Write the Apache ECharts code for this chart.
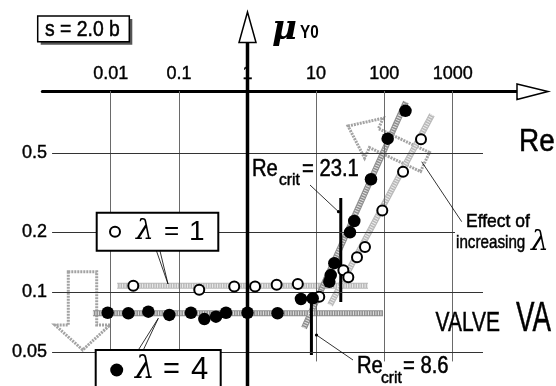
<!DOCTYPE html>
<html>
<head>
<meta charset="utf-8">
<script src="https://cdn.jsdelivr.net/npm/echarts@6/dist/echarts.min.js"></script>
<style>
  html, body { margin: 0; padding: 0; background: #fff; }
  #chart { width: 556px; height: 386px; }
</style>
</head>
<body>
<div id="chart"></div>
<script>
// Reynolds-number axis ticks
const reTicks = [0.01, 0.1, 1, 10, 100, 1000];
const reTickLabels = ['0.01', '0.1', '1', '10', '100', '1000'];
// friction-coefficient axis ticks
const muTicks = [0.05, 0.1, 0.2, 0.5];
const muTickLabels = ['0.05', '0.1', '0.2', '0.5'];

// lambda = 1 measurements (open circles)
const lambda1Re = [0.0214, 0.197, 0.64, 1.29, 2.67, 5.44, 11.2, 25.2, 29.8, 39.9, 52.2, 93.5, 188, 344];
const lambda1Mu = [0.108, 0.103, 0.107, 0.107, 0.109, 0.110, 0.095, 0.129, 0.119, 0.150, 0.169, 0.257, 0.403, 0.586];

// lambda = 4 measurements (filled circles)
const lambda4Re = [0.00904, 0.0181, 0.0355, 0.0719, 0.149, 0.234, 0.346, 0.485, 1.0, 2.75, 6.05, 8.98, 15.7, 16.5, 18.6, 31.5, 36.4, 63.9, 112, 204];
const lambda4Mu = [0.079, 0.0785, 0.080, 0.077, 0.079, 0.0734, 0.0755, 0.079, 0.079, 0.0785, 0.0926, 0.0933, 0.113, 0.122, 0.140, 0.200, 0.228, 0.369, 0.590, 0.814];

// fitted bands, end points as [Re, mu]
const band1Flat = [[0.0124, 0.108], [57.8, 0.108]];
const band1Rise = [[16.1, 0.0864], [498, 0.778]];
const band4Flat = [[0.0055, 0.0785], [95.7, 0.0785]];
const band4Rise = [[6.7, 0.0662], [207, 0.901]];

// critical Reynolds numbers and the mu span of their markers
const critRe = [23.1, 8.6];
const critMuTop = [0.297, 0.099];
const critMuBottom = [0.0894, 0.0485];

// axis extents
const reMin = 0.001, reMax = 10000;
const muMin = 0.03388, muMax = 1.0233;

const SANS = '"Liberation Sans", Arial, sans-serif';
const SERIF = '"DejaVu Serif", serif';

const chart = echarts.init(document.getElementById('chart'), null, { renderer: 'canvas' });

function pick(list, labels, v) {
  let best = 0;
  list.forEach((t, i) => {
    if (Math.abs(Math.log10(t) - Math.log10(v)) < Math.abs(Math.log10(list[best]) - Math.log10(v))) best = i;
  });
  return labels[best];
}

const zip = (xs, ys) => xs.map((x, i) => [x, ys[i]]);

// grid lines drawn as mark lines
const gridLines = [];
reTicks.forEach(v => gridLines.push([
  { coord: [v, muMax], lineStyle: { color: '#6a6a6a', width: 1, type: 'solid' } },
  { coord: [v, 0.045] }
]));
muTicks.forEach(v => gridLines.push([
  { coord: [0.00139, v], lineStyle: { color: '#333', width: 1, type: 'solid' } },
  { coord: [v === 0.2 ? 1081 : 2773, v] }
]));

const bandSeries = (data, base, z) => [
  { type: 'line', data, showSymbol: false, silent: true, z,
    lineStyle: { color: base, width: 6, cap: 'butt' } },
  { type: 'line', data, showSymbol: false, silent: true, z: z + 0.1,
    lineStyle: { color: 'rgba(255,255,255,0.75)', width: 4, type: [1, 1.5], cap: 'butt' } }
];

const series = [
  { type: 'scatter', data: [], silent: true, z: 1,
    markLine: { silent: true, symbol: 'none', animation: false,
      label: { show: false }, data: gridLines } },
  ...bandSeries(band1Flat, '#b9b9b9', 3),
  ...bandSeries(band1Rise, '#b9b9b9', 3),
  ...bandSeries(band4Flat, '#8e8e8e', 3.5),
  ...bandSeries(band4Rise, '#8e8e8e', 3.5),
  ...critRe.map((re, i) => ({
    type: 'line', data: [[re, critMuTop[i]], [re, critMuBottom[i]]],
    showSymbol: false, silent: true, z: 4,
    lineStyle: { color: '#000', width: 3, cap: 'butt' }
  })),
  { type: 'scatter', name: 'λ = 1', data: zip(lambda1Re, lambda1Mu), z: 5,
    symbol: 'circle', symbolSize: 10,
    itemStyle: { color: '#fff', borderColor: '#000', borderWidth: 2, opacity: 1 } },
  { type: 'scatter', name: 'λ = 4', data: zip(lambda4Re, lambda4Mu), z: 6,
    symbol: 'circle', symbolSize: 12.5,
    itemStyle: { color: '#000', opacity: 1 } }
];

const tickLabelStyle = {
  margin: 8, color: '#000', fontFamily: SANS, fontSize: 18,
  textBorderColor: '#000', textBorderWidth: 0.4
};

chart.setOption({
  animation: false,
  grid: { left: 42.3, right: 34.9, top: 91, bottom: 0, containLabel: false },
  xAxis: {
    type: 'log', logBase: 10, min: reMin, max: reMax, position: 'top',
    axisLine: { show: true, lineStyle: { color: '#000', width: 3, cap: 'round' } },
    axisTick: { show: false },
    splitLine: { show: false },
    axisLabel: Object.assign({ customValues: reTicks,
      formatter: v => pick(reTicks, reTickLabels, v) }, tickLabelStyle)
  },
  yAxis: {
    type: 'log', logBase: 10, min: muMin, max: muMax, offset: -12.7,
    axisLine: { show: false }, axisTick: { show: false }, splitLine: { show: false },
    axisLabel: Object.assign({ customValues: muTicks,
      formatter: v => pick(muTicks, muTickLabels, v) }, tickLabelStyle)
  },
  series
});

// decorations positioned from the axis scales
const yAxisX = chart.convertToPixel({ xAxisIndex: 0 }, 1);
const grey = '#a3a3a3';

const txt = (text, x, y, size, opts = {}) => ({
  type: 'text', z: opts.z || 20, silent: true,
  x, y, scaleX: opts.scaleX || 1,
  style: { text, x: 0, y: 0, fill: '#000',
    stroke: '#000', lineWidth: opts.heavy === false ? 0 : 0.5,
    font: `${opts.weight || 'normal'} ${size}px ${opts.family || SANS}`,
    align: opts.align || 'left', verticalAlign: opts.va || 'middle' }
});
const seg = (x1, y1, x2, y2, w = 1, color = '#000', z = 20) => ({
  type: 'line', z, silent: true,
  shape: { x1, y1, x2, y2 }, style: { stroke: color, lineWidth: w }
});

const elements = [
  // vertical axis through Re = 1
  seg(yAxisX, 386, yAxisX, 42, 3.5, '#000', 8),
  { type: 'polygon', z: 9, silent: true,
    shape: { points: [[yAxisX, 12], [yAxisX - 8.5, 42.5], [yAxisX + 8.5, 42.5]] },
    style: { fill: '#fff', stroke: '#000', lineWidth: 1.5 } },
  // horizontal axis arrow head
  { type: 'polygon', z: 9, silent: true,
    shape: { points: [[517, 84], [548, 91.5], [517, 99.5]] },
    style: { fill: '#fff', stroke: '#000', lineWidth: 1.5 } },

  // axis titles
  txt('μ', 272, 30, 34, { family: SERIF, weight: 'italic bold', heavy: false }),
  txt('Y0', 300, 33, 18, { weight: 'bold', scaleX: 0.85, heavy: false }),
  txt('Re', 519, 142.5, 31, { scaleX: 0.9 }),

  // parameter box
  { type: 'rect', z: 18, silent: true, shape: { x: 40.7, y: 19, width: 91.6, height: 25.7 },
    style: { fill: '#555' } },
  { type: 'rect', z: 19, silent: true, shape: { x: 37.7, y: 16, width: 91.6, height: 25.7 },
    style: { fill: '#fff', stroke: '#000', lineWidth: 1.5 } },
  txt('s = 2.0 b', 45, 29.5, 22, { scaleX: 0.88 }),

  // legend box lambda = 1
  { type: 'rect', z: 18, silent: true, shape: { x: 96.7, y: 212.7, width: 121.6, height: 38 },
    style: { fill: '#fff', stroke: '#000', lineWidth: 2 } },
  { type: 'circle', z: 19, silent: true, shape: { cx: 115, cy: 231.7, r: 5 },
    style: { fill: '#fff', stroke: '#000', lineWidth: 2 } },
  txt('λ', 136, 232, 28, { family: SERIF, weight: 'italic', heavy: false }),
  txt('=', 164, 232, 26, { heavy: false }),
  txt('1', 189, 232, 28, { heavy: false }),

  // legend box lambda = 4
  { type: 'rect', z: 18, silent: true, shape: { x: 95.7, y: 350, width: 125, height: 45 },
    style: { fill: '#fff', stroke: '#000', lineWidth: 2 } },
  { type: 'circle', z: 19, silent: true, shape: { cx: 116.7, cy: 370, r: 6.5 },
    style: { fill: '#000' } },
  txt('λ', 135, 370, 31, { family: SERIF, weight: 'italic', heavy: false }),
  txt('=', 163, 370, 29, { heavy: false }),
  txt('4', 191, 370, 31, { heavy: false }),

  // legend leaders
  seg(156.5, 251, 168, 284, 0.8), seg(160, 251, 168, 284, 0.8),
  seg(138.3, 350, 158.3, 318.3, 0.8), seg(143.3, 350, 158.3, 318.3, 0.8),

  // critical Reynolds labels
  txt('Re', 252, 170, 23, { scaleX: 0.88 }),
  txt('crit', 279, 180, 17, { scaleX: 0.92 }),
  txt('= 23.1', 302, 170, 23, { scaleX: 0.88 }),
  seg(310, 185, 338.5, 211.7, 0.8),
  { type: 'circle', z: 20, silent: true, shape: { cx: 338.5, cy: 211.7, r: 1.6 }, style: { fill: '#000' } },

  txt('Re', 357, 367, 23, { scaleX: 0.88 }),
  txt('crit', 381, 378, 17, { scaleX: 0.92 }),
  txt('= 8.6', 403, 367, 23, { scaleX: 0.88 }),
  seg(353, 360, 316.5, 335, 0.8),
  { type: 'circle', z: 20, silent: true, shape: { cx: 316.5, cy: 335, r: 1.6 }, style: { fill: '#000' } },

  // effect annotation
  txt('Effect of', 466, 222, 19, { scaleX: 0.92 }),
  txt('increasing', 456, 243, 19, { scaleX: 0.8 }),
  txt('λ', 531, 243, 28, { family: SERIF, weight: 'italic', heavy: false }),
  seg(421.7, 161.7, 461.7, 221.7, 0.8),

  // valve name
  txt('VALVE', 435.5, 323.5, 28, { scaleX: 0.75 }),
  txt('VA', 516, 319, 42, { scaleX: 0.66 }),

  // hollow arrows
  { type: 'polygon', z: 2, silent: true,
    shape: { points: [[348, 126], [383.2, 118.2], [378.4, 128.6], [429.5, 152.5], [420.5, 171.5], [369.4, 147.6], [364.6, 158]] },
    style: { fill: 'none', stroke: grey, lineWidth: 3, lineDash: [2, 1] } },
  { type: 'polygon', z: 2, silent: true,
    shape: { points: [[68.3, 271.7], [96.7, 271.7], [96.7, 325], [110, 325], [82.7, 350], [55, 325], [68.3, 325]] },
    style: { fill: 'none', stroke: grey, lineWidth: 3, lineDash: [2, 1] } }
];

chart.setOption({ graphic: { elements } });
</script>
</body>
</html>
